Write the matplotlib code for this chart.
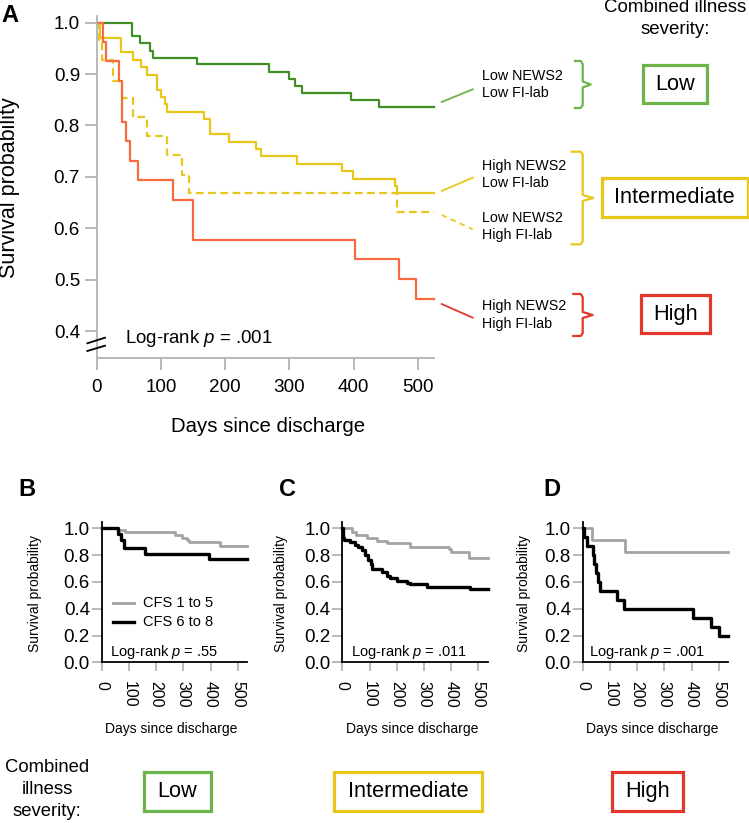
import numpy as np
import matplotlib.pyplot as plt
from matplotlib.lines import Line2D
from matplotlib.patches import Rectangle

plt.rcParams['font.family'] = ['Liberation Sans', 'DejaVu Sans']
plt.rcParams['mathtext.fontset'] = 'custom'
plt.rcParams['mathtext.it'] = 'Liberation Sans:italic'
plt.rcParams['mathtext.rm'] = 'Liberation Sans'

# ---- data ----
# Panel A: combined NEWS2 / FI-lab groups
lowlow_t = [0, 55, 67, 83, 87, 156, 268, 300, 308, 320, 396, 440]
lowlow_s = [1.0, 0.974, 0.960, 0.945, 0.932, 0.919, 0.905, 0.890, 0.877, 0.864, 0.850, 0.836]

highlow_t = [0, 5, 38, 56, 69, 79, 94, 100, 107, 110, 167, 177, 206, 248, 255, 312, 382, 399, 464, 468]
highlow_s = [1.0, 0.971, 0.942, 0.927, 0.914, 0.899, 0.870, 0.856, 0.842, 0.827, 0.813, 0.783,
             0.768, 0.754, 0.740, 0.725, 0.711, 0.696, 0.682, 0.668]

lowhigh_t = [0, 3, 8, 26, 39, 56, 78, 109, 132, 144, 468]
lowhigh_s = [1.0, 0.966, 0.927, 0.887, 0.853, 0.816, 0.779, 0.742, 0.704, 0.668, 0.631]

highhigh_t = [0, 10, 15, 34, 40, 46, 52, 65, 119, 150, 402, 470, 497]
highhigh_s = [1.0, 0.963, 0.926, 0.887, 0.807, 0.769, 0.731, 0.693, 0.655, 0.577, 0.540, 0.501, 0.462]

# Panels B-D: CFS within each combined severity group
cfs_labels = ['CFS 1 to 5', 'CFS 6 to 8']

low_cfs15_t = [0, 61, 86, 270, 294, 312, 322, 435]
low_cfs15_s = [1.0, 0.985, 0.970, 0.953, 0.930, 0.913, 0.898, 0.868]
low_cfs68_t = [0, 61, 71, 82, 159, 396]
low_cfs68_s = [1.0, 0.955, 0.913, 0.856, 0.806, 0.769]

mid_cfs15_t = [0, 34, 50, 90, 127, 164, 248, 392, 401, 466]
mid_cfs15_s = [1.0, 0.975, 0.953, 0.925, 0.905, 0.888, 0.863, 0.843, 0.826, 0.776]
mid_cfs68_t = [0, 1, 3, 8, 28, 47, 59, 71, 84, 96, 105, 111, 145, 164, 176, 200, 238, 250, 312, 469]
mid_cfs68_s = [1.0, 0.94, 0.925, 0.912, 0.90, 0.876, 0.858, 0.838, 0.80, 0.764, 0.734, 0.697,
               0.677, 0.647, 0.627, 0.607, 0.595, 0.585, 0.565, 0.547]

high_cfs15_t = [0, 33, 154]
high_cfs15_s = [1.0, 0.913, 0.826]
high_cfs68_t = [0, 3, 15, 37, 43, 50, 57, 65, 125, 152, 405, 473, 500]
high_cfs68_s = [1.0, 0.933, 0.867, 0.80, 0.733, 0.667, 0.60, 0.533, 0.467, 0.40, 0.333, 0.267, 0.20]

pvals = ['.55', '.011', '.001']
severity = ['Low', 'Intermediate', 'High']

# ---- colours ----
GREEN_CURVE = '#3f8f25'
GREEN = '#6cb44a'
YELLOW = '#e8c71a'
RED_CURVE = '#f66b3f'
RED = '#e2372b'
AXGRAY = '#b3b3b3'
CFS_GRAY = '#a3a3a3'

W, H = 749, 823
fig = plt.figure(figsize=(W / 100, H / 100), dpi=100)


def fx(x):
    return x / W


def fy(y):
    return 1 - y / H


def fig_line(xs, ys, **kw):
    fig.add_artist(Line2D([fx(x) for x in xs], [fy(y) for y in ys],
                          transform=fig.transFigure, **kw))


def fig_text(x, y, s, **kw):
    fig.text(fx(x), fy(y), s, **kw)


def fig_box(x0, y0, x1, y1, color):
    fig.add_artist(Rectangle((fx(x0), fy(y1)), fx(x1) - fx(x0), fy(y0) - fy(y1),
                             transform=fig.transFigure, fill=False, edgecolor=color, lw=2.3))


def brace(x0, x1, x2, ytop, ybot, color):
    ym = (ytop + ybot) / 2
    xs = [x0, x1 - 2, x1, x1, x2, x1, x1, x1 - 2, x0]
    ys = [ytop, ytop, ytop + 3, ym - 3, ym, ym + 3, ybot - 3, ybot, ybot]
    fig_line(xs, ys, color=color, lw=1.6, solid_joinstyle='round')


def km(ax, t, s, tend, **kw):
    ax.step(np.append(t, tend), np.append(s, s[-1]), where='post', clip_on=False, **kw)


# ================= Panel A =================
axA = fig.add_axes([fx(96.7), fy(358), (434 - 96.7) / W, (358 - 16) / H])
km(axA, lowlow_t, lowlow_s, 525, color=GREEN_CURVE, lw=1.6)
km(axA, highlow_t, highlow_s, 525, color=YELLOW, lw=1.6)
km(axA, lowhigh_t, lowhigh_s, 525, color=YELLOW, lw=1.6, linestyle=(0, (3.5, 2)))
km(axA, highhigh_t, highhigh_s, 525, color=RED_CURVE, lw=1.6)
axA.set_xlim(0, 525)
axA.set_ylim(0.3477, 1.013)
axA.set_yticks([0.4, 0.5, 0.6, 0.7, 0.8, 0.9, 1.0])
axA.set_yticklabels(['0.4', '0.5', '0.6', '0.7', '0.8', '0.9', '1.0'])
axA.set_xticks([0, 100, 200, 300, 400, 500])
for side in ['top', 'right']:
    axA.spines[side].set_visible(False)
for side in ['left', 'bottom']:
    axA.spines[side].set_color(AXGRAY)
    axA.spines[side].set_linewidth(1.3)
axA.tick_params(color=AXGRAY, width=1.3, length=8.5, labelsize=13.6)
axA.tick_params(axis='y', pad=3.5)
axA.tick_params(axis='x', pad=6.5)
axA.text(44, 0.385, 'Log-rank $p$ = .001', fontsize=13.4, va='center', ha='left')

# axis break marks
fig_line([87.3, 105], [343.3, 337.7], color='black', lw=1.3)
fig_line([87.3, 105], [351, 345.7], color='black', lw=1.3)

fig_text(10, 188, 'Survival probability', fontsize=15.5, rotation=90, ha='center', va='center')
fig_text(268, 432, 'Days since discharge', fontsize=14.7, ha='center', va='baseline')
fig_text(10, 16, 'A', fontsize=17, fontweight='bold', ha='center', va='center')

# right-hand annotations
fig_text(675, 8, 'Combined illness', fontsize=13.5, ha='center', va='center')
fig_text(675, 29, 'severity:', fontsize=13.5, ha='center', va='center')

ann = 10.3
fig_text(482.3, 75.7, 'Low NEWS2', fontsize=ann, va='center')
fig_text(482.3, 93, 'Low FI-lab', fontsize=ann, va='center')
fig_text(482.3, 166, 'High NEWS2', fontsize=ann, va='center')
fig_text(482.3, 183, 'Low FI-lab', fontsize=ann, va='center')
fig_text(482.3, 218.3, 'Low NEWS2', fontsize=ann, va='center')
fig_text(482.3, 235.3, 'High FI-lab', fontsize=ann, va='center')
fig_text(482.3, 306.3, 'High NEWS2', fontsize=ann, va='center')
fig_text(482.3, 323.7, 'High FI-lab', fontsize=ann, va='center')

fig_line([441.7, 472.7], [102, 89.3], color=GREEN, lw=1.3)
fig_line([441.7, 472.7], [191, 177.7], color=YELLOW, lw=1.3)
fig_line([441.7, 472.7], [215, 229.3], color=YELLOW, lw=1.3, linestyle=(0, (3, 2.5)))
fig_line([441.7, 472.7], [304, 317.7], color=RED, lw=1.3)

brace(575, 582.7, 590.7, 61, 108, GREEN)
brace(571.7, 582.7, 593.3, 151.7, 244.3, YELLOW)
brace(573.3, 582.7, 592.7, 294, 336, RED)

fig_box(642.7, 65, 707.3, 103.3, GREEN)
fig_box(601.7, 177.7, 747.7, 216.7, YELLOW)
fig_box(640.7, 295, 710, 333.3, RED)
fig_text(675, 84.5, 'Low', fontsize=15.7, ha='center', va='center')
fig_text(674.7, 197.5, 'Intermediate', fontsize=15.7, ha='center', va='center')
fig_text(675.3, 314.5, 'High', fontsize=15.7, ha='center', va='center')

# ================= Panels B-D =================
lefts = [101.7, 342.3, 582.7]
letters = ['B', 'C', 'D']
letter_x = [27, 287.5, 551.7]
ylabel_x = [34.5, 280.5, 524]
logrank_x = [0.057, 0.058, 0.045]
groups = [
    (low_cfs15_t, low_cfs15_s, low_cfs68_t, low_cfs68_s),
    (mid_cfs15_t, mid_cfs15_s, mid_cfs68_t, mid_cfs68_s),
    (high_cfs15_t, high_cfs15_s, high_cfs68_t, high_cfs68_s),
]
sx = 0.272  # px per day
for i, (t1, s1, t2, s2) in enumerate(groups):
    ax = fig.add_axes([fx(lefts[i]), fy(662.3), 535 * sx / W, (662.3 - 521.7) / H])
    km(ax, t1, s1, 535, color=CFS_GRAY, lw=2.0)
    km(ax, t2, s2, 535, color='black', lw=2.4)
    ax.set_xlim(0, 535)
    ax.set_ylim(0, 1.05)
    ax.set_yticks([0, 0.2, 0.4, 0.6, 0.8, 1.0])
    ax.set_yticklabels(['0.0', '0.2', '0.4', '0.6', '0.8', '1.0'])
    ax.set_xticks([0, 100, 200, 300, 400, 500])
    for side in ['top', 'right']:
        ax.spines[side].set_visible(False)
    for side in ['left', 'bottom']:
        ax.spines[side].set_linewidth(1.3)
    ax.tick_params(color=AXGRAY, width=1.3)
    ax.tick_params(axis='y', length=7, pad=1.5, labelsize=13.5)
    ax.tick_params(axis='x', length=6.5, pad=7, labelsize=11.5, labelrotation=270)
    ax.text(logrank_x[i], 0.07, 'Log-rank $p$ = ' + pvals[i], fontsize=10.5,
            transform=ax.transAxes, va='center', ha='left')
    cx = lefts[i] + 535 * sx / 2
    fig_text(cx - 3, 733, 'Days since discharge', fontsize=10, ha='center', va='baseline')
    fig_text(ylabel_x[i], 594, 'Survival probability', fontsize=10, rotation=90,
             ha='center', va='center')
    fig_text(letter_x[i], 489, letters[i], fontsize=17, fontweight='bold', ha='center', va='center')

    if i == 0:
        for col, lw, yy, lab in [(CFS_GRAY, 2.0, 603.3, cfs_labels[0]),
                                 ('black', 2.4, 622.3, cfs_labels[1])]:
            fig_line([113.3, 134.3], [yy, yy], color=col, lw=lw)
            fig_text(143.3, yy, lab, fontsize=10.5, va='center', ha='left')

# bottom severity boxes
fig_text(47, 768, 'Combined', fontsize=13.3, ha='center', va='center')
fig_text(47, 790, 'illness', fontsize=13.3, ha='center', va='center')
fig_text(47, 812, 'severity:', fontsize=13.3, ha='center', va='center')
fig_box(144, 772, 211, 811, GREEN)
fig_box(334, 772, 481.7, 811, YELLOW)
fig_box(612, 772, 682.7, 811, RED)
fig_text(177.5, 791.5, 'Low', fontsize=15.7, ha='center', va='center')
fig_text(408, 791.5, 'Intermediate', fontsize=15.7, ha='center', va='center')
fig_text(647.3, 791.5, 'High', fontsize=15.7, ha='center', va='center')

fig.savefig('out.png', dpi=100)
